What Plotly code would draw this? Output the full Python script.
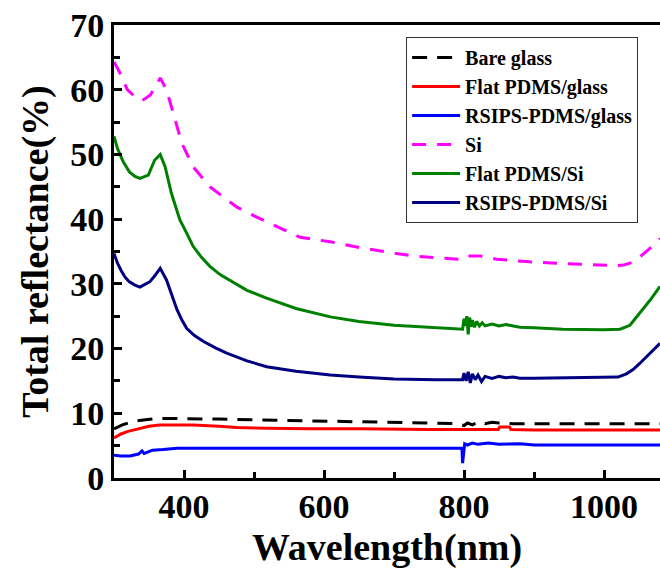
import plotly.graph_objects as go

# Total reflectance spectra (wavelength in nm, reflectance in %)
wl_bare = [300, 305, 312, 320, 330, 345, 360, 380, 400, 450, 500, 550, 600, 650, 700, 750,
           790, 800, 805, 812, 820, 830, 840, 850, 870, 900, 950, 1000, 1050, 1080]
r_bare = [7.6, 7.9, 8.2, 8.5, 8.8, 9.0, 9.2, 9.2, 9.2, 9.1, 9.0, 8.9, 8.8, 8.7, 8.6, 8.5,
          8.4, 8.1, 8.5, 8.2, 8.7, 8.4, 8.6, 8.5, 8.4, 8.4, 8.4, 8.4, 8.4, 8.4]

wl_flat_glass = [300, 305, 310, 320, 330, 340, 350, 365, 380, 413, 450, 475, 520, 580, 650,
                 700, 750, 800, 849, 851, 865, 867, 900, 950, 1000, 1050, 1080]
r_flat_glass = [6.2, 6.5, 6.8, 7.2, 7.5, 7.8, 8.0, 8.2, 8.2, 8.2, 8.0, 7.8, 7.7, 7.6, 7.6,
                7.5, 7.5, 7.5, 7.5, 7.9, 7.9, 7.5, 7.4, 7.4, 7.4, 7.4, 7.4]

wl_rsips_glass = [300, 310, 323, 335, 340, 343, 348, 355, 370, 390, 450, 550, 650, 750, 790,
                  797, 798, 799, 801, 805, 812, 820, 835, 850, 880, 900, 1000, 1080]
r_rsips_glass = [3.5, 3.4, 3.4, 3.7, 4.2, 3.8, 4.0, 4.3, 4.4, 4.6, 4.6, 4.6, 4.6, 4.6, 4.6,
                 4.6, 2.3, 3.6, 5.3, 5.1, 5.4, 5.2, 5.4, 5.2, 5.3, 5.1, 5.1, 5.1]

wl_si = [300, 305, 310, 319, 330, 340, 352, 360, 366, 375, 385, 397, 413, 437, 475, 504,
         540, 566, 609, 656, 727, 761, 794, 801, 823, 847, 866, 894, 932, 984, 1018, 1028,
         1040, 1047, 1058, 1066, 1080]
r_si = [64.3, 63.2, 62.3, 60.0, 58.9, 58.3, 59.2, 60.6, 61.8, 60.0, 56.4, 51.7, 48.1, 45.0,
        41.9, 40.3, 38.5, 37.2, 36.5, 35.5, 34.3, 34.0, 33.8, 34.3, 34.3, 33.8, 33.6, 33.4,
        33.2, 33.0, 32.8, 32.9, 33.3, 33.8, 34.8, 35.5, 37.0]

wl_flat_si = [300, 305, 313, 322, 330, 337, 349, 358, 366, 373, 382, 389, 394, 404, 413,
              425, 437, 452, 470, 490, 518, 560, 609, 650, 700, 760, 798, 800, 802, 804,
              806, 808, 810, 812, 815, 818, 822, 826, 830, 840, 850, 860, 880, 900, 941,
              1000, 1023, 1037, 1051, 1066, 1080]
r_flat_si = [52.8, 50.9, 48.9, 47.3, 46.6, 46.3, 46.8, 49.1, 50.0, 48.1, 44.0, 41.7, 39.9,
             37.8, 35.8, 34.1, 32.7, 31.4, 30.3, 29.0, 27.8, 26.2, 24.9, 24.2, 23.6, 23.2,
             23.0, 24.6, 23.5, 25.0, 22.2, 24.8, 23.4, 24.4, 23.3, 24.2, 23.5, 24.0, 23.5,
             23.8, 23.5, 23.7, 23.3, 23.2, 23.0, 22.9, 23.0, 23.6, 25.5, 27.5, 29.6]

wl_rsips_si = [300, 305, 310, 316, 322, 330, 337, 351, 358, 366, 375, 382, 390, 397, 404,
               415, 428, 445, 461, 490, 518, 560, 609, 650, 700, 760, 798, 800, 803, 806,
               809, 812, 816, 820, 825, 830, 840, 850, 860, 870, 880, 900, 1000, 1020,
               1032, 1042, 1051, 1066, 1080]
r_rsips_si = [34.7, 33.2, 32.1, 31.0, 30.3, 29.8, 29.5, 30.3, 31.2, 32.4, 30.6, 28.3, 26.0,
              24.4, 23.1, 22.0, 21.1, 20.1, 19.3, 18.1, 17.2, 16.5, 15.9, 15.6, 15.3, 15.2,
              15.2, 16.2, 15.0, 16.4, 14.7, 16.1, 15.2, 15.9, 14.9, 15.7, 15.4, 15.7, 15.5,
              15.6, 15.4, 15.4, 15.5, 15.6, 16.1, 16.8, 17.7, 19.3, 20.8]

SERIF = "Liberation Serif, Times New Roman, serif"

series = [
    ("Bare glass", wl_bare, r_bare, "#000000", "15px,10px"),
    ("Flat PDMS/glass", wl_flat_glass, r_flat_glass, "#ff0000", "solid"),
    ("RSIPS-PDMS/glass", wl_rsips_glass, r_rsips_glass, "#0000ff", "solid"),
    ("Si", wl_si, r_si, "#ff00ff", "14px,11px"),
    ("Flat PDMS/Si", wl_flat_si, r_flat_si, "#008000", "solid"),
    ("RSIPS-PDMS/Si", wl_rsips_si, r_rsips_si, "#000080", "solid"),
]

fig = go.Figure()
for name, xs, ys, color, dash in series:
    fig.add_trace(go.Scatter(
        x=xs, y=ys, name=name, mode="lines",
        line=dict(color=color, width=3, dash=dash),
    ))

axis_font = dict(family=SERIF, size=34, color="black", weight="bold")
title_font = dict(family=SERIF, size=38, color="black", weight="bold")

fig.update_layout(
    width=660, height=572,
    margin=dict(l=114, r=0, t=25, b=94),
    plot_bgcolor="white", paper_bgcolor="white",
    showlegend=True,
    legend=dict(
        x=0.535, y=0.9735, xanchor="left", yanchor="top",
        bordercolor="#333333", borderwidth=1, bgcolor="white",
        font=dict(family=SERIF, size=20, color="black", weight="bold"),
        itemwidth=48, tracegroupgap=0,
    ),
    xaxis=dict(
        range=[300, 1080], tickvals=[400, 600, 800, 1000],
        ticks="inside", ticklen=8, tickwidth=3, tickcolor="black",
        minor=dict(tickvals=[500, 700, 900], ticks="inside", ticklen=6,
                   tickwidth=3, tickcolor="black"),
        showline=True, linewidth=3, linecolor="black", mirror=True,
        showgrid=False, zeroline=False,
        tickfont=axis_font, ticklabelstandoff=-4,
        title=dict(text="Wavelength(nm)", font=title_font, standoff=10),
    ),
    yaxis=dict(
        range=[0, 70], dtick=10, tick0=0,
        ticks="inside", ticklen=8, tickwidth=3, tickcolor="black",
        minor=dict(dtick=5, ticks="inside", ticklen=6, tickwidth=3,
                   tickcolor="black"),
        showline=True, linewidth=3, linecolor="black", mirror=False,
        showgrid=False, zeroline=False,
        tickfont=axis_font,
        title=dict(text="Total reflectance(%)", font=title_font, standoff=10),
    ),
)

fig.write_html("out.html")
